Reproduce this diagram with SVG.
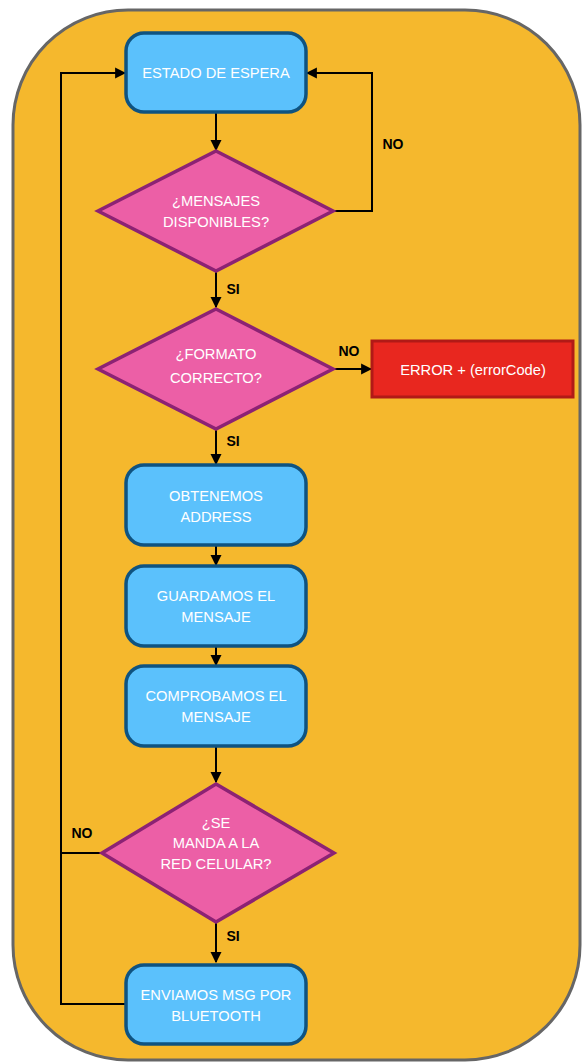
<svg xmlns="http://www.w3.org/2000/svg" width="582" height="1063" viewBox="0 0 582 1063">
<defs>
<marker id="arr" viewBox="0 0 10 10" refX="9" refY="5" markerWidth="11" markerHeight="12" markerUnits="userSpaceOnUse" orient="auto">
<path d="M0,0 L10,5 L0,10 Z" fill="#000"/>
</marker>
<style>
.frame{fill:#F5B82D;stroke:#666;stroke-width:3}
.proc{fill:#5BC1FC;stroke:#0F5380;stroke-width:3.5}
.dec{fill:#EC5FA6;stroke:#8C2274;stroke-width:3.5}
.err{fill:#E8271F;stroke:#B11A17;stroke-width:3}
.t{font-family:"Liberation Sans",Arial,sans-serif;font-size:14.7px;fill:#fff;text-anchor:middle}
.lbl{font-family:"Liberation Sans",Arial,sans-serif;font-size:14px;font-weight:bold;fill:#000;text-anchor:middle}
.c{fill:none;stroke:#000;stroke-width:2}
.ca{fill:none;stroke:#000;stroke-width:2;marker-end:url(#arr)}
</style>
</defs>
<rect class="frame" x="13" y="10" width="567" height="1050" rx="115" ry="115"/>
<g id="connectors">
<path class="ca" d="M216,112 V150"/>
<path class="ca" d="M333,211 H372 V73 H307"/>
<path class="ca" d="M216,271 V307"/>
<path class="ca" d="M333,369 H371"/>
<path class="ca" d="M216,429 V464"/>
<path class="ca" d="M216,545 V565"/>
<path class="ca" d="M216,646 V665"/>
<path class="ca" d="M216,746 V782"/>
<path class="ca" d="M216,923 V962"/>
<path class="ca" d="M102,853 H61 V73 H125"/>
<path class="c" d="M126,1004 H61 V853"/>
<text class="lbl" x="393" y="149">NO</text>
<text class="lbl" x="233" y="294">SI</text>
<text class="lbl" x="349" y="356">NO</text>
<text class="lbl" x="233" y="446">SI</text>
<text class="lbl" x="82" y="838">NO</text>
<text class="lbl" x="233" y="941">SI</text>
</g>
<g id="estado">
<rect class="proc" x="126" y="33" width="180" height="79" rx="18"/>
<text class="t" x="216" y="78">ESTADO DE ESPERA</text>
</g>
<g id="mensajes">
<polygon class="dec" points="216,151 333,211 216,271 98,211"/>
<text class="t" x="216" y="206">¿MENSAJES</text>
<text class="t" x="216" y="227">DISPONIBLES?</text>
</g>
<g id="formato">
<polygon class="dec" points="216,309 333,369 216,429 98,369"/>
<text class="t" x="216" y="359">¿FORMATO</text>
<text class="t" x="216" y="383">CORRECTO?</text>
</g>
<g id="error">
<rect class="err" x="372" y="341" width="201" height="56"/>
<text class="t" x="473" y="375">ERROR + (errorCode)</text>
</g>
<g id="obtenemos">
<rect class="proc" x="126" y="465" width="180" height="80" rx="18"/>
<text class="t" x="216" y="501">OBTENEMOS</text>
<text class="t" x="216" y="522">ADDRESS</text>
</g>
<g id="guardamos">
<rect class="proc" x="126" y="566" width="180" height="80" rx="18"/>
<text class="t" x="216" y="601">GUARDAMOS EL</text>
<text class="t" x="216" y="622">MENSAJE</text>
</g>
<g id="comprobamos">
<rect class="proc" x="126" y="666" width="180" height="80" rx="18"/>
<text class="t" x="216" y="701">COMPROBAMOS EL</text>
<text class="t" x="216" y="722">MENSAJE</text>
</g>
<g id="red">
<polygon class="dec" points="216,784 334,853 216,922 102,853"/>
<text class="t" x="216" y="828">¿SE</text>
<text class="t" x="216" y="848">MANDA A LA</text>
<text class="t" x="216" y="869">RED CELULAR?</text>
</g>
<g id="enviamos">
<rect class="proc" x="126" y="965" width="180" height="79" rx="18"/>
<text class="t" x="216" y="1000">ENVIAMOS MSG POR</text>
<text class="t" x="216" y="1021">BLUETOOTH</text>
</g>
</svg>
